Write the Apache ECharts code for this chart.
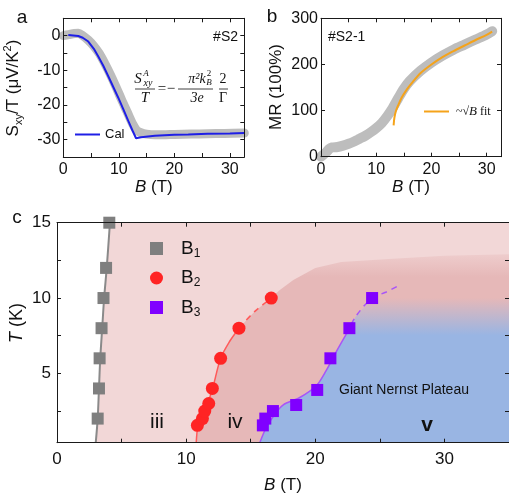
<!DOCTYPE html>
<html>
<head>
<meta charset="utf-8">
<script src="https://cdn.jsdelivr.net/npm/echarts@6/dist/echarts.min.js"></script>
<style>
html, body { margin: 0; padding: 0; background: #fff; }
#chart { width: 509px; height: 498px; }
</style>
</head>
<body>
<div id="chart"></div>
<script>
// ---- panel a : Sxy/T vs B ----
const aMeasB = [0, 1, 2, 2.7, 3.5, 4.5, 5.5, 6.5, 7.5, 8.5, 9.5, 10.5, 11.5, 12.5, 13.2, 14, 15, 16.5, 18, 20, 23, 26, 29, 32.6];
const aMeasS = [0, 0.3, 0.6, 0.7, 0, -1.3, -3.0, -5.2, -8.1, -11.3, -14.8, -18.5, -22, -25.5, -27.3, -28, -28.4, -28.6, -28.6, -28.5, -28.4, -28.3, -28.2, -28.1];
const aCalB = [0.9, 2.7, 3.5, 4.5, 5.5, 6.3, 7.2, 8.1, 9, 9.9, 10.8, 11.7, 12.5, 13.1, 14, 16.5, 20, 22.5, 26, 30, 32.6];
const aCalS = [0.2, -0.1, -0.6, -1.7, -3.8, -6, -8.7, -11.7, -14.8, -17.9, -21.2, -24.6, -27.5, -29.6, -29.3, -28.9, -28.6, -28.5, -28.3, -28.2, -28.1];
const aXLabels = [0, 10, 20, 30];
const aXTicks = [5, 10, 15, 20, 25, 30];
const aYLabels = [-30, -20, -10, 0];
const aYTicks = [-30, -25, -20, -15, -10, -5, 0];

// ---- panel b : MR vs B ----
const bMeasB = [0, 0.5, 1, 1.5, 2, 3, 4, 5, 6, 7, 8, 9, 10, 11, 12, 13, 14, 15, 16, 18, 20, 22, 24, 26, 28, 30, 31];
const bMeasMR = [0, 5, 10, 17, 20, 21, 24, 28, 33, 39, 45, 53, 62, 73, 88, 106, 127, 147, 163, 186, 204, 219, 232, 243, 254, 265, 272];
const bFitB = [13.15, 13.3, 13.6, 14, 14.6, 15.5, 16.4, 18, 20, 22, 24, 26, 28, 30, 31];
const bFitMR = [68, 85, 100, 112, 128, 145, 159, 181, 200, 216, 229, 241, 253, 264, 271];
const bXLabels = [0, 10, 20, 30];
const bXTicks = [5, 10, 15, 20, 25, 30];
const bYLabels = [0, 100, 200, 300];
const bYTicks = [100, 200];

// ---- panel c : phase diagram ----
const b1B = [3.15, 3.25, 3.3, 3.45, 3.6, 3.8, 4.05];
const b1T = [2, 4, 6, 8, 10, 12, 15];
const b2B = [10.87, 11.26, 11.44, 11.75, 12.03, 12.67, 14.09, 16.59];
const b2T = [1.55, 2, 2.5, 3, 4, 6, 8, 10];
const b3B = [15.94, 16.13, 16.72, 18.52, 20.15, 21.17, 22.64, 24.4];
const b3T = [1.55, 2.0, 2.5, 2.9, 3.9, 6.0, 8.0, 10.0];

const b1LineB = [3.0, 3.15, 3.25, 3.35, 3.5, 3.65, 3.85, 4.1];
const b1LineT = [0.4, 2, 4, 6, 8, 10, 12, 15];
const b2LineB = [10.78, 10.9, 11.1, 11.36, 11.65, 12.05, 12.67, 13.35, 14.09];
const b2LineT = [0.4, 1.5, 2.0, 2.5, 3.0, 4.0, 6.0, 7.1, 8.0];
const b2DashB = [14.09, 15.3, 16.59, 17.2];
const b2DashT = [8, 9.1, 10, 10.5];
const b3LineB = [15.7, 16.2, 16.8, 17.5, 18.8, 20.1, 20.85, 21.6, 22.4];
const b3LineT = [0.4, 1.4, 2.2, 2.9, 3.4, 4.2, 5.2, 6.4, 7.6];
const b3DashB = [22.4, 23.15, 24.4, 25.5, 26.4];
const b3DashT = [7.6, 8.8, 10, 10.4, 10.8];
// upper edges of the shaded regions
const ivTopB = [18.3, 20, 22, 26, 30, 35];
const ivTopT = [11.2, 12.0, 12.4, 12.6, 12.8, 12.9];
const vTopB = [28, 35];
const vTopT = [11, 11.2];

const cXLabels = [0, 10, 20, 30];
const cXTicks = [5, 10, 15, 20, 25, 30];
const cYLabels = [5, 10, 15];
const cYTicks = [2.5, 5, 7.5, 10, 12.5];

const C_BMAX = 35, C_TMIN = 0.4, C_TMAX = 15;

const FONT = 'Liberation Sans';
const SERIF = 'Liberation Serif';
const INK = '#1a1a1a';

function zip(xs, ys) {
    return xs.map((x, i) => [x, ys[i]]);
}

function makeAxis(grid, pos, min, max, labels, ticks, fs, margin) {
    return {
        type: 'value', gridIndex: grid, position: pos, min: min, max: max, z: 5,
        splitLine: { show: false },
        axisLine: { show: true, onZero: false, lineStyle: { color: INK, width: 1 } },
        axisTick: { show: true, inside: true, length: 4, customValues: ticks, lineStyle: { color: INK } },
        axisLabel: labels ? { show: true, customValues: labels, fontFamily: FONT, fontSize: fs, color: '#111', margin: margin } : { show: false }
    };
}

function regionSeries(points, fill, z) {
    return {
        type: 'custom', xAxisIndex: 4, yAxisIndex: 4, z: z, silent: true, clip: true,
        data: [[0, 0]],
        renderItem: function (params, api) {
            return {
                type: 'polygon',
                shape: { points: points.map(p => api.coord(p)) },
                style: { fill: fill }
            };
        }
    };
}

const regionIII = zip(b1LineB, b1LineT).concat([[C_BMAX, C_TMAX], [C_BMAX, C_TMIN]]);
const regionIV = zip(b2LineB, b2LineT).concat(zip(b2DashB, b2DashT).slice(1), zip(ivTopB, ivTopT), [[C_BMAX, C_TMIN]]);
const regionV = zip(b3LineB, b3LineT).concat(zip(b3DashB, b3DashT).slice(1), zip(vTopB, vTopT), [[C_BMAX, C_TMIN]]);

const xName = { i: { fontFamily: FONT, fontStyle: 'italic', fontSize: 17, color: '#111' }, n: { fontFamily: FONT, fontSize: 17, color: '#111' } };

const chart = echarts.init(document.getElementById('chart'));

const option = {
    animation: false,
    grid: [
        { left: 63.3, top: 18.3, width: 181, height: 138.7 },
        { left: 321, top: 18.3, width: 180, height: 138.4 },
        { left: 57, top: 222.7, width: 452, height: 220 }
    ],
    xAxis: [
        Object.assign(makeAxis(0, 'bottom', 0, 32.6, aXLabels, aXTicks, 16, 5), {
            name: '{i|B}{n| (T)}', nameLocation: 'middle', nameGap: 22, nameTextStyle: { rich: xName }
        }),
        makeAxis(0, 'top', 0, 32.6, null, aXTicks),
        Object.assign(makeAxis(1, 'bottom', 0, 32.6, bXLabels, bXTicks, 16, 5), {
            name: '{i|B}{n| (T)}', nameLocation: 'middle', nameGap: 22, nameTextStyle: { rich: xName }
        }),
        makeAxis(1, 'top', 0, 32.6, null, bXTicks),
        Object.assign(makeAxis(2, 'bottom', 0, C_BMAX, cXLabels, cXTicks, 17, 8), {
            name: '{i|B}{n| (T)}', nameLocation: 'middle', nameGap: 34, nameTextStyle: { rich: xName }
        }),
        makeAxis(2, 'top', 0, C_BMAX, null, cXTicks)
    ],
    yAxis: [
        makeAxis(0, 'left', -35, 5, aYLabels, aYTicks, 16, 3),
        makeAxis(0, 'right', -35, 5, null, aYTicks),
        makeAxis(1, 'left', 0, 300, bYLabels, bYTicks, 16, 3),
        makeAxis(1, 'right', 0, 300, null, bYTicks),
        makeAxis(2, 'left', C_TMIN, C_TMAX, cYLabels, cYTicks, 17, 6),
        makeAxis(2, 'right', C_TMIN, C_TMAX, null, cYTicks)
    ],
    legend: [
        {
            data: [{ name: 'Cal', icon: 'rect' }], left: 70, top: 123, itemWidth: 25, itemHeight: 2, selectedMode: false,
            textStyle: { fontFamily: FONT, fontSize: 13, color: '#111' }
        },
        {
            data: [{ name: 'sqrtB fit', icon: 'rect' }], left: 419, top: 100, itemWidth: 25, itemHeight: 2, selectedMode: false,
            formatter: () => '{t|~√}{i|B}{t| fit}',
            textStyle: {
                padding: [0, 0, 0, 2],
                rich: {
                    t: { fontFamily: SERIF, fontSize: 12, color: '#111' },
                    i: { fontFamily: SERIF, fontStyle: 'italic', fontSize: 13, color: '#111' }
                }
            }
        },
        {
            data: [{ name: 'B1', icon: 'rect' }, { name: 'B2', icon: 'circle' }, { name: 'B3', icon: 'rect' }],
            orient: 'vertical', left: 145, top: 234, itemWidth: 13, itemHeight: 13, itemGap: 9, selectedMode: false,
            formatter: n => '{m|B}{s|' + n.slice(1) + '}',
            textStyle: {
                padding: [0, 0, 0, 13],
                rich: {
                    m: { fontFamily: FONT, fontSize: 19, lineHeight: 22, color: '#111' },
                    s: { fontFamily: FONT, fontSize: 12, lineHeight: 12, verticalAlign: 'bottom', color: '#111' }
                }
            }
        }
    ],
    graphic: [
        // panel letters
        { type: 'text', x: 22, y: 18, style: { text: 'a', font: '19px ' + FONT, fill: '#111', align: 'center', verticalAlign: 'middle' } },
        { type: 'text', x: 272, y: 17, style: { text: 'b', font: '19px ' + FONT, fill: '#111', align: 'center', verticalAlign: 'middle' } },
        { type: 'text', x: 17, y: 218, style: { text: 'c', font: '19px ' + FONT, fill: '#111', align: 'center', verticalAlign: 'middle' } },
        // y axis titles
        {
            type: 'text', x: 13, y: 88, rotation: Math.PI / 2,
            style: {
                text: '{n|S}{sub|xy}{n|/T (μV/K}{sup|2}{n|)}', align: 'center', verticalAlign: 'middle',
                rich: {
                    n: { fontFamily: FONT, fontSize: 17, lineHeight: 22, fill: '#111' },
                    sub: { fontFamily: FONT, fontSize: 11, lineHeight: 11, verticalAlign: 'bottom', fill: '#111' },
                    sup: { fontFamily: FONT, fontSize: 11, lineHeight: 11, verticalAlign: 'top', fill: '#111' }
                }
            }
        },
        { type: 'text', x: 276.5, y: 87, rotation: Math.PI / 2, style: { text: 'MR (100%)', font: '17px ' + FONT, fill: '#111', align: 'center', verticalAlign: 'middle' } },
        {
            type: 'text', x: 17, y: 323, rotation: Math.PI / 2,
            style: {
                text: '{i|T}{n| (K)}', align: 'center', verticalAlign: 'middle',
                rich: {
                    i: { fontFamily: FONT, fontStyle: 'italic', fontSize: 18, fill: '#111' },
                    n: { fontFamily: FONT, fontSize: 18, fill: '#111' }
                }
            }
        },
        // sample labels
        { type: 'text', x: 238, y: 37, style: { text: '#S2', font: '14px ' + FONT, fill: '#111', align: 'right', verticalAlign: 'middle' } },
        { type: 'text', x: 328, y: 37, style: { text: '#S2-1', font: '14px ' + FONT, fill: '#111', align: 'left', verticalAlign: 'middle' } },
        // formula in panel a
        { type: 'text', x: 138, y: 79, style: { text: 'S', font: 'italic 15px ' + SERIF, fill: '#111', align: 'center', verticalAlign: 'middle' } },
        { type: 'text', x: 146, y: 74, style: { text: 'A', font: 'italic 9px ' + SERIF, fill: '#111', align: 'center', verticalAlign: 'middle' } },
        { type: 'text', x: 148, y: 83, style: { text: 'xy', font: 'italic 10px ' + SERIF, fill: '#111', align: 'center', verticalAlign: 'middle' } },
        { type: 'line', shape: { x1: 135, y1: 89, x2: 155, y2: 89 }, style: { stroke: '#111', lineWidth: 0.8 } },
        { type: 'text', x: 145, y: 98, style: { text: 'T', font: 'italic 15px ' + SERIF, fill: '#111', align: 'center', verticalAlign: 'middle' } },
        { type: 'text', x: 162, y: 89, style: { text: '=', font: '15px ' + SERIF, fill: '#111', align: 'center', verticalAlign: 'middle' } },
        { type: 'text', x: 171, y: 89, style: { text: '−', font: '15px ' + SERIF, fill: '#111', align: 'center', verticalAlign: 'middle' } },
        { type: 'text', x: 197, y: 79, style: { text: 'π²k', font: 'italic 14px ' + SERIF, fill: '#111', align: 'center', verticalAlign: 'middle' } },
        { type: 'text', x: 209, y: 74, style: { text: '2', font: '9px ' + SERIF, fill: '#111', align: 'center', verticalAlign: 'middle' } },
        { type: 'text', x: 209, y: 83, style: { text: 'B', font: 'italic 9px ' + SERIF, fill: '#111', align: 'center', verticalAlign: 'middle' } },
        { type: 'line', shape: { x1: 178, y1: 89, x2: 213, y2: 89 }, style: { stroke: '#111', lineWidth: 0.8 } },
        { type: 'text', x: 197, y: 98, style: { text: '3e', font: 'italic 14px ' + SERIF, fill: '#111', align: 'center', verticalAlign: 'middle' } },
        { type: 'text', x: 223, y: 79, style: { text: '2', font: '14px ' + SERIF, fill: '#111', align: 'center', verticalAlign: 'middle' } },
        { type: 'line', shape: { x1: 219, y1: 89, x2: 228, y2: 89 }, style: { stroke: '#111', lineWidth: 0.8 } },
        { type: 'text', x: 223, y: 98, style: { text: 'Γ', font: '14px ' + SERIF, fill: '#111', align: 'center', verticalAlign: 'middle' } },
        // region labels in panel c
        { type: 'text', x: 157, y: 422, z: 20, style: { text: 'iii', font: '21px ' + FONT, fill: '#111', align: 'center', verticalAlign: 'middle' } },
        { type: 'text', x: 235, y: 422, z: 20, style: { text: 'iv', font: '21px ' + FONT, fill: '#111', align: 'center', verticalAlign: 'middle' } },
        { type: 'text', x: 427, y: 425, z: 20, style: { text: 'v', font: 'bold 21px ' + FONT, fill: '#111', align: 'center', verticalAlign: 'middle' } },
        { type: 'text', x: 339, y: 390, z: 20, style: { text: 'Giant Nernst Plateau', font: '14px ' + FONT, fill: '#111', align: 'left', verticalAlign: 'middle' } }
    ],
    series: [
        // panel a
        {
            name: 'measured a', type: 'line', xAxisIndex: 0, yAxisIndex: 0, data: zip(aMeasB, aMeasS),
            symbol: 'none', smooth: 0.3, z: 2, lineStyle: { color: '#bdbdbd', width: 9, cap: 'round', join: 'round' }
        },
        {
            name: 'Cal', type: 'line', xAxisIndex: 0, yAxisIndex: 0, data: zip(aCalB, aCalS),
            symbol: 'none', z: 3, color: '#1f1fe6', lineStyle: { color: '#1f1fe6', width: 2 }
        },
        // panel b
        {
            name: 'measured b', type: 'line', xAxisIndex: 2, yAxisIndex: 2, data: zip(bMeasB, bMeasMR),
            symbol: 'none', smooth: 0.3, z: 2, lineStyle: { color: '#bdbdbd', width: 10, cap: 'round', join: 'round' }
        },
        {
            name: 'sqrtB fit', type: 'line', xAxisIndex: 2, yAxisIndex: 2, data: zip(bFitB, bFitMR),
            symbol: 'none', smooth: 0.3, z: 3, color: '#f5a31a', lineStyle: { color: '#f5a31a', width: 2 }
        },
        // panel c regions
        regionSeries(regionIII, '#f2d7d7', 1),
        regionSeries(regionIV, {
            type: 'linear', x: 0, y: 0, x2: 0, y2: 1,
            colorStops: [
                { offset: 0, color: 'rgba(230,184,184,0.35)' },
                { offset: 0.12, color: 'rgba(230,184,184,1)' },
                { offset: 1, color: 'rgba(230,184,184,1)' }
            ]
        }, 1),
        regionSeries(regionV, {
            type: 'linear', x: 0, y: 0, x2: 0, y2: 1,
            colorStops: [
                { offset: 0, color: 'rgba(153,181,227,0)' },
                { offset: 0.11, color: 'rgba(153,181,227,0)' },
                { offset: 0.34, color: 'rgba(153,181,227,1)' },
                { offset: 1, color: 'rgba(153,181,227,1)' }
            ]
        }, 1),
        // panel c boundary lines
        {
            type: 'line', xAxisIndex: 4, yAxisIndex: 4, data: zip(b1LineB, b1LineT), symbol: 'none', smooth: 0.3, z: 3,
            lineStyle: { color: '#8a8a8a', width: 2 }
        },
        {
            type: 'line', xAxisIndex: 4, yAxisIndex: 4, data: zip(b2LineB, b2LineT), symbol: 'none', smooth: 0.3, z: 3,
            lineStyle: { color: '#ff5a5a', width: 1.5 }
        },
        {
            type: 'line', xAxisIndex: 4, yAxisIndex: 4, data: zip(b2DashB, b2DashT), symbol: 'none', smooth: 0.3, z: 3,
            lineStyle: { color: '#ff5a5a', width: 1.5, type: [6, 5] }
        },
        {
            type: 'line', xAxisIndex: 4, yAxisIndex: 4, data: zip(b3LineB, b3LineT), symbol: 'none', smooth: 0.3, z: 3,
            lineStyle: { color: '#a855f7', width: 1.5 }
        },
        {
            type: 'line', xAxisIndex: 4, yAxisIndex: 4, data: zip(b3DashB, b3DashT), symbol: 'none', smooth: 0.3, z: 3,
            lineStyle: { color: '#a855f7', width: 1.5, type: [6, 5] }
        },
        // panel c points
        {
            name: 'B1', type: 'scatter', xAxisIndex: 4, yAxisIndex: 4, data: zip(b1B, b1T), z: 4,
            symbol: 'rect', symbolSize: 12, itemStyle: { color: '#7f7f7f', opacity: 1 }
        },
        {
            name: 'B2', type: 'scatter', xAxisIndex: 4, yAxisIndex: 4, data: zip(b2B, b2T), z: 4,
            symbol: 'circle', symbolSize: 13, itemStyle: { color: '#ff2424', opacity: 1 }
        },
        {
            name: 'B3', type: 'scatter', xAxisIndex: 4, yAxisIndex: 4, data: zip(b3B, b3T), z: 4,
            symbol: 'rect', symbolSize: 12, itemStyle: { color: '#8000ff', opacity: 1 }
        }
    ]
};

chart.setOption(option);
</script>
</body>
</html>
